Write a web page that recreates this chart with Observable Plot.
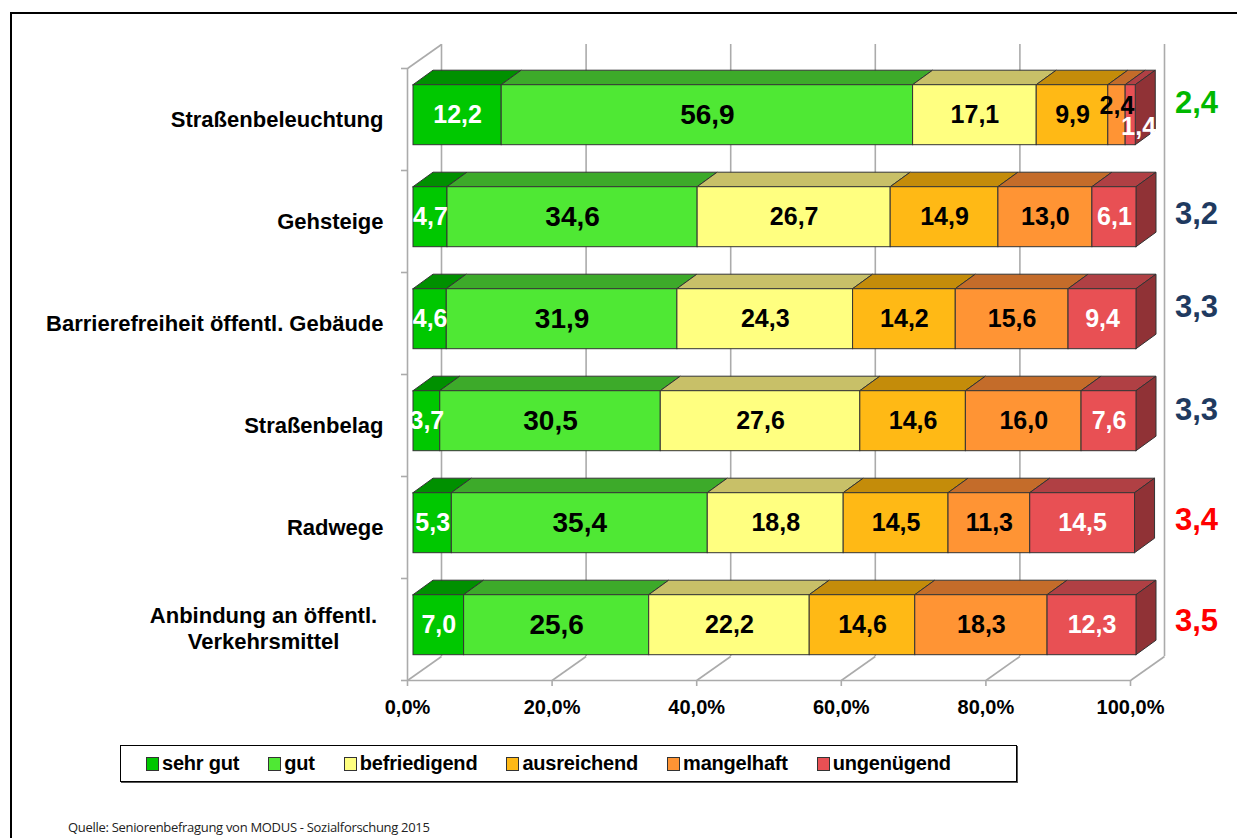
<!DOCTYPE html>
<html>
<head>
<meta charset="utf-8">
<script src="https://cdn.jsdelivr.net/npm/d3@7"></script>
<script src="https://cdn.jsdelivr.net/npm/@observablehq/plot@0.6"></script>
<style>
  html, body { margin: 0; padding: 0; background: #fff; overflow: hidden; width: 1237px; height: 838px; }
  body { position: relative; font-family: "Liberation Sans", Arial, sans-serif; }
  #frame { position: absolute; left: 10px; top: 12px; width: 1300px; height: 900px; border: 2px solid #000; box-sizing: border-box; }
  #chart { position: absolute; left: 0; top: 0; }
  #legend { position: absolute; left: 120px; top: 745px; width: 897px; height: 37px; box-sizing: border-box;
            border: 1px solid #000; box-shadow: 1px 1px 0 #555; background: #fff;
            display: flex; align-items: center; padding-left: 25px; gap: 29px; }
  .item { display: flex; align-items: center; font-weight: bold; font-size: 20px; letter-spacing: -0.2px; color: #000; }
  .sw { width: 11px; height: 12px; border: 1px solid #333; margin-right: 3px; }
  #caption { position: absolute; left: 68px; top: 819px; font-size: 13px; line-height: 16px; color: #222; font-family: "Open Sans", "Liberation Sans", sans-serif; letter-spacing: -0.3px; }
</style>
</head>
<body>
<div id="frame"></div>
<div id="chart"></div>
<div id="legend"></div>
<div id="caption">Quelle: Seniorenbefragung von MODUS - Sozialforschung 2015</div>
<script>
// Survey data: share of ratings per item (percent) and mean grade
const categories = [
  "Straßenbeleuchtung",
  "Gehsteige",
  "Barrierefreiheit öffentl. Gebäude",
  "Straßenbelag",
  "Radwege",
  "Anbindung an öffentl.\nVerkehrsmittel"
];
const grades = ["sehr gut", "gut", "befriedigend", "ausreichend", "mangelhaft", "ungenügend"];
const sehrGut      = [12.2, 4.7, 4.6, 3.7, 5.3, 7.0];
const gut          = [56.9, 34.6, 31.9, 30.5, 35.4, 25.6];
const befriedigend = [17.1, 26.7, 24.3, 27.6, 18.8, 22.2];
const ausreichend  = [9.9, 14.9, 14.2, 14.6, 14.5, 14.6];
const mangelhaft   = [2.4, 13.0, 15.6, 16.0, 11.3, 18.3];
const ungenuegend  = [1.4, 6.1, 9.4, 7.6, 14.5, 12.3];
const meanGrades   = [2.4, 3.2, 3.3, 3.3, 3.4, 3.5];
const xTicks = [0, 20, 40, 60, 80, 100];

// Colours for the front, top and side faces of each rating
const frontColors = ["#00c800", "#4fe834", "#ffff80", "#ffb915", "#ff9434", "#e85054"];
const topColors   = ["#009000", "#3daa2a", "#c8c068", "#c48c0a", "#c46c2a", "#b04044"];
const sideColor   = "#903236";
const labelColors = ["#fff", "#000", "#000", "#000", "#000", "#fff"];
const labelSizes  = [25, 28, 25, 25, 25, 25];
const edge = "#333";
const grid = "#ababab";
const meanColor = m => m <= 2.5 ? "#00b800" : m < 3.35 ? "#1f3a60" : "#ff0000";

// Plot geometry
const W = 1237, H = 730, mL = 407, mR = 107, mT = 68, mB = 50;
const nRows = categories.length;
const pxX = (W - mL - mR) / 100;        // pixels per percent
const pxY = (H - mT - mB) / nRows;      // pixels per category band
const wall = {dx: 34, dy: 24};          // depth of the chart box
const bar = {shiftX: 6, shiftY: -4.3, depthX: 20, depthY: 14.5, half: 30};
const bx = bar.depthX / pxX, by = bar.depthY / pxY, bh = bar.half / pxY;
const wx = wall.dx / pxX, wy = wall.dy / pxY;

const fmt = v => v.toFixed(1).replace(".", ",");
const series = [sehrGut, gut, befriedigend, ausreichend, mangelhaft, ungenuegend];

// Stack the segments of every bar
const segs = [];
categories.forEach((cat, i) => {
  let acc = 0;
  series.forEach((vals, k) => {
    const v = vals[i];
    segs.push({row: i, k, key: `${i}-${k}`, v, x1: acc, x2: acc + v, yc: i + 0.5});
    acc += v;
  });
});

// Top faces as parallelograms
const topPts = segs.flatMap(s => [
  {key: s.key, y: s.yc - bh, x1: s.x1, x2: s.x2, fill: topColors[s.k]},
  {key: s.key, y: s.yc - bh - by, x1: s.x1 + bx, x2: s.x2 + bx, fill: topColors[s.k]}
]);
// Right side face of the last segment in each bar
const lastSegs = segs.filter(s => s.k === grades.length - 1);
const sidePts = lastSegs.flatMap(s => [
  {key: s.key, x: s.x2, y1: s.yc - bh, y2: s.yc + bh},
  {key: s.key, x: s.x2 + bx, y1: s.yc - bh - by, y2: s.yc + bh - by}
]);

// Value labels, one mark per label size; narrow segments get a nudge
const nudges = {"0-4": [0, -9], "0-5": [8, 12]};
const labelMarks = [...new Set(labelSizes)].map(size =>
  Plot.text(segs.filter(s => !(s.key in nudges) && labelSizes[s.k] === size), {
    x: s => (s.x1 + s.x2) / 2, y: "yc", text: s => fmt(s.v),
    fill: s => labelColors[s.k], fontSize: size, dx: bar.shiftX, dy: bar.shiftY
  })
);
const nudgedLabelMarks = Object.entries(nudges).map(([key, [ndx, ndy]]) =>
  Plot.text(segs.filter(s => s.key === key), {
    x: s => (s.x1 + s.x2) / 2, y: "yc", text: s => fmt(s.v),
    fill: s => labelColors[s.k], fontSize: 25,
    dx: bar.shiftX + ndx, dy: bar.shiftY + ndy
  })
);

// Mean grade labels to the right of the bars
const meanNudge = [-16, -7, -16, -15, -7, -8];
const meanMarks = meanGrades.map((m, i) =>
  Plot.text([m], {x: 100, y: i + 0.5, text: d => fmt(d), fill: meanColor(m),
    fontSize: 31, dx: 66, dy: meanNudge[i]})
);

const singleCats = categories.map((c, i) => ({c, i})).filter(d => !d.c.includes("\n"));
const multiCats = categories.map((c, i) => ({c, i})).filter(d => d.c.includes("\n"));

const chart = Plot.plot({
  width: W, height: H,
  marginLeft: mL, marginRight: mR, marginTop: mT, marginBottom: mB,
  x: {domain: [0, 100]},
  y: {domain: [0, nRows], reverse: true, axis: null},
  style: {fontFamily: "'Liberation Sans', Arial, sans-serif", fontWeight: "bold", background: "transparent", overflow: "visible"},
  marks: [
    // back wall gridlines
    Plot.ruleX(xTicks, {y1: 0, y2: nRows, dx: wall.dx, dy: -wall.dy, stroke: grid, strokeWidth: 1.6}),
    // floor gridlines
    Plot.link(xTicks, {x1: d => d, y1: nRows, x2: d => d + wx, y2: nRows - wy, stroke: grid, strokeWidth: 1.6}),
    // floor front edge, left wall front edge and top edge
    Plot.ruleY([nRows], {x1: 0, x2: 100, stroke: grid, strokeWidth: 1.6}),
    Plot.ruleX([0], {y1: 0, y2: nRows, stroke: grid, strokeWidth: 1.6}),
    Plot.link([0], {x1: 0, y1: 0, x2: wx, y2: -wy, stroke: grid, strokeWidth: 1.6}),
    // category tick marks on the left wall
    Plot.ruleY(d3.range(nRows + 1), {x1: 0, x2: -6 / pxX, stroke: grid, strokeWidth: 1.6}),
    // x axis
    Plot.axisX(xTicks, {tickSize: 6, tickPadding: 13, stroke: grid, strokeWidth: 1.6, fontSize: 20,
      tickFormat: d => fmt(d) + "%"}),
    // bars: top faces, side faces, front faces
    Plot.areaX(topPts, {y: "y", x1: "x1", x2: "x2", z: "key", fill: "fill", stroke: edge, strokeWidth: 1,
      strokeLinejoin: "round", dx: bar.shiftX, dy: bar.shiftY}),
    Plot.areaY(sidePts, {x: "x", y1: "y1", y2: "y2", z: "key", fill: sideColor, stroke: edge, strokeWidth: 1,
      strokeLinejoin: "round", dx: bar.shiftX, dy: bar.shiftY}),
    Plot.rect(segs, {x1: "x1", x2: "x2", y1: s => s.yc - bh, y2: s => s.yc + bh,
      fill: s => frontColors[s.k], stroke: edge, strokeWidth: 1, dx: bar.shiftX, dy: bar.shiftY}),
    // value labels
    ...labelMarks,
    ...nudgedLabelMarks,
    // category labels
    Plot.text(singleCats, {x: 0, y: d => d.i + 0.5, text: "c", textAnchor: "end", fontSize: 22, dx: -24, dy: 0, fill: "#000"}),
    Plot.text(multiCats, {x: 0, y: d => d.i + 0.5, text: "c", textAnchor: "middle", lineHeight: 1.2, fontSize: 22, dx: -144, dy: -2, fill: "#000"}),
    ...meanMarks
  ]
});
document.getElementById("chart").appendChild(chart);

// Legend
const legend = document.getElementById("legend");
grades.forEach((g, k) => {
  const item = document.createElement("div");
  item.className = "item";
  const sw = document.createElement("span");
  sw.className = "sw";
  sw.style.background = frontColors[k];
  item.appendChild(sw);
  item.appendChild(document.createTextNode(g));
  legend.appendChild(item);
});
</script>
</body>
</html>
